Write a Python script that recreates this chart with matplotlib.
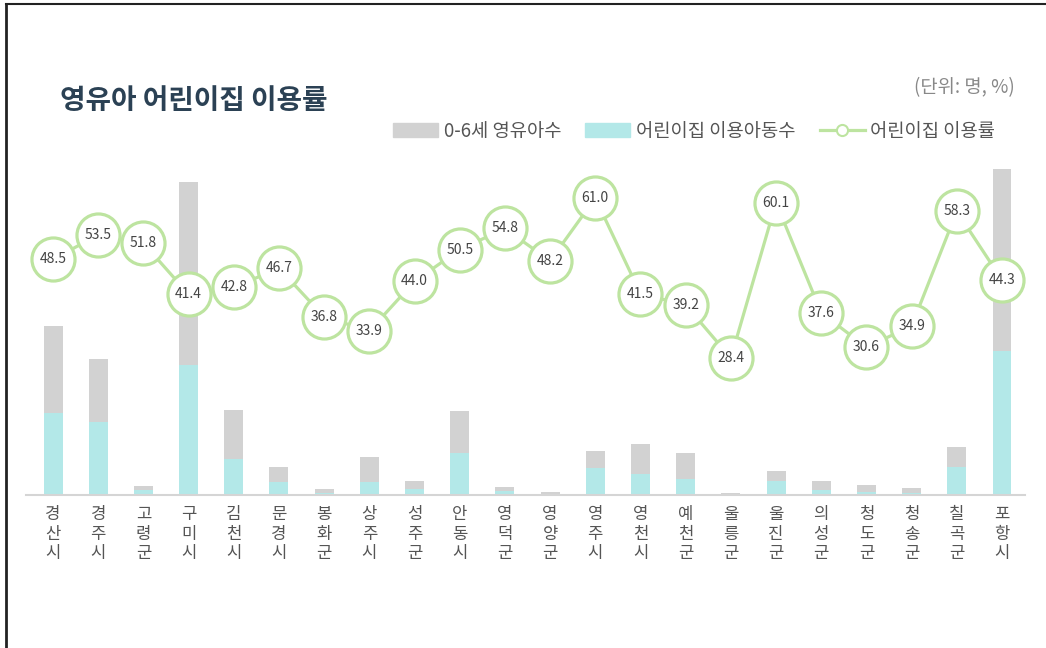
import matplotlib.pyplot as plt
from matplotlib.lines import Line2D
from matplotlib.patches import Patch

plt.rcParams['font.family'] = ['Noto Sans CJK KR', 'DejaVu Sans']

# 시군별 영유아 수, 어린이집 이용아동 수, 이용률
regions = ['경산시', '경주시', '고령군', '구미시', '김천시', '문경시', '봉화군', '상주시',
           '성주군', '안동시', '영덕군', '영양군', '영주시', '영천시', '예천군', '울릉군',
           '울진군', '의성군', '청도군', '청송군', '칠곡군', '포항시']
children = [15200, 12200, 810, 28200, 7650, 2520, 540, 3420, 1260, 7560, 720, 270,
            3960, 4600, 3780, 180, 2160, 1260, 900, 630, 4300, 29300]
users = [7370, 6530, 420, 11680, 3270, 1180, 200, 1160, 555, 3820, 395, 130,
         2415, 1910, 1480, 51, 1300, 474, 275, 220, 2510, 12980]
rate = [48.5, 53.5, 51.8, 41.4, 42.8, 46.7, 36.8, 33.9, 44.0, 50.5, 54.8, 48.2,
        61.0, 41.5, 39.2, 28.4, 60.1, 37.6, 30.6, 34.9, 58.3, 44.3]

gray = '#d2d2d2'
cyan = '#b3e8e8'
green = '#bde4a0'

fig = plt.figure(figsize=(10.46, 6.48), dpi=100)
ax = fig.add_axes([25.9 / 1046, 153 / 648, 998.7 / 1046, 330 / 648])
x = list(range(len(regions)))

ax.bar(x, children, width=0.42, color=gray, zorder=1)
ax.bar(x, users, width=0.42, color=cyan, zorder=2)
ax.set_xlim(-0.6, 21.5)
ax.set_ylim(0, 29700)
ax.set_yticks([])
for s in ['top', 'right', 'left']:
    ax.spines[s].set_visible(False)
ax.spines['bottom'].set_color('#d5d5d5')
ax.spines['bottom'].set_linewidth(1.5)
ax.set_xticks(x)
ax.set_xticklabels(['\n'.join(r) for r in regions], fontsize=12, color='#555555',
                   linespacing=1.2, va='top')
ax.tick_params(axis='x', length=0, pad=8)

ax2 = ax.twinx()
ax2.plot(x, rate, color=green, lw=2.3, marker='o', markersize=31,
         markerfacecolor='white', markeredgecolor=green, markeredgewidth=2.3, zorder=3)
for xi, v in zip(x, rate):
    ax2.text(xi, v, f'{v:.1f}', ha='center', va='center', fontsize=10,
             color='#444444', zorder=4)
ax2.set_ylim(0.45, 67.75)
ax2.set_yticks([])
for s in ax2.spines.values():
    s.set_visible(False)

fig.text(60 / 1046, 1 - 101 / 648, '영유아 어린이집 이용률', fontsize=20, fontweight='bold',
         color='#2b4154', va='center', ha='left')
fig.text(1015 / 1046, 1 - 88 / 648, '(단위: 명, %)', fontsize=13.5, color='#888888',
         va='center', ha='right')

handles = [Patch(color=gray), Patch(color=cyan),
           Line2D([], [], color=green, lw=2.3, marker='o', markersize=8,
                  markerfacecolor='white', markeredgecolor=green, markeredgewidth=1.5)]
labels = ['0-6세 영유아수', '어린이집 이용아동수', '어린이집 이용률']
leg = fig.legend(handles, labels, loc='center right', ncol=3, frameon=False,
                 bbox_to_anchor=(1003 / 1046, 1 - 131 / 648), fontsize=13.5,
                 handlelength=2.4, handleheight=0.7, handletextpad=0.3,
                 columnspacing=1.3, borderaxespad=0)
for t in leg.get_texts():
    t.set_color('#555555')

# 바깥 테두리 (왼쪽, 위)
fig.add_artist(Line2D([6 / 1046, 6 / 1046], [0, 1 - 4 / 648], color='#222222', lw=2))
fig.add_artist(Line2D([6 / 1046, 1], [1 - 4 / 648, 1 - 4 / 648], color='#222222', lw=1.5))

fig.savefig('out.png', dpi=100)
